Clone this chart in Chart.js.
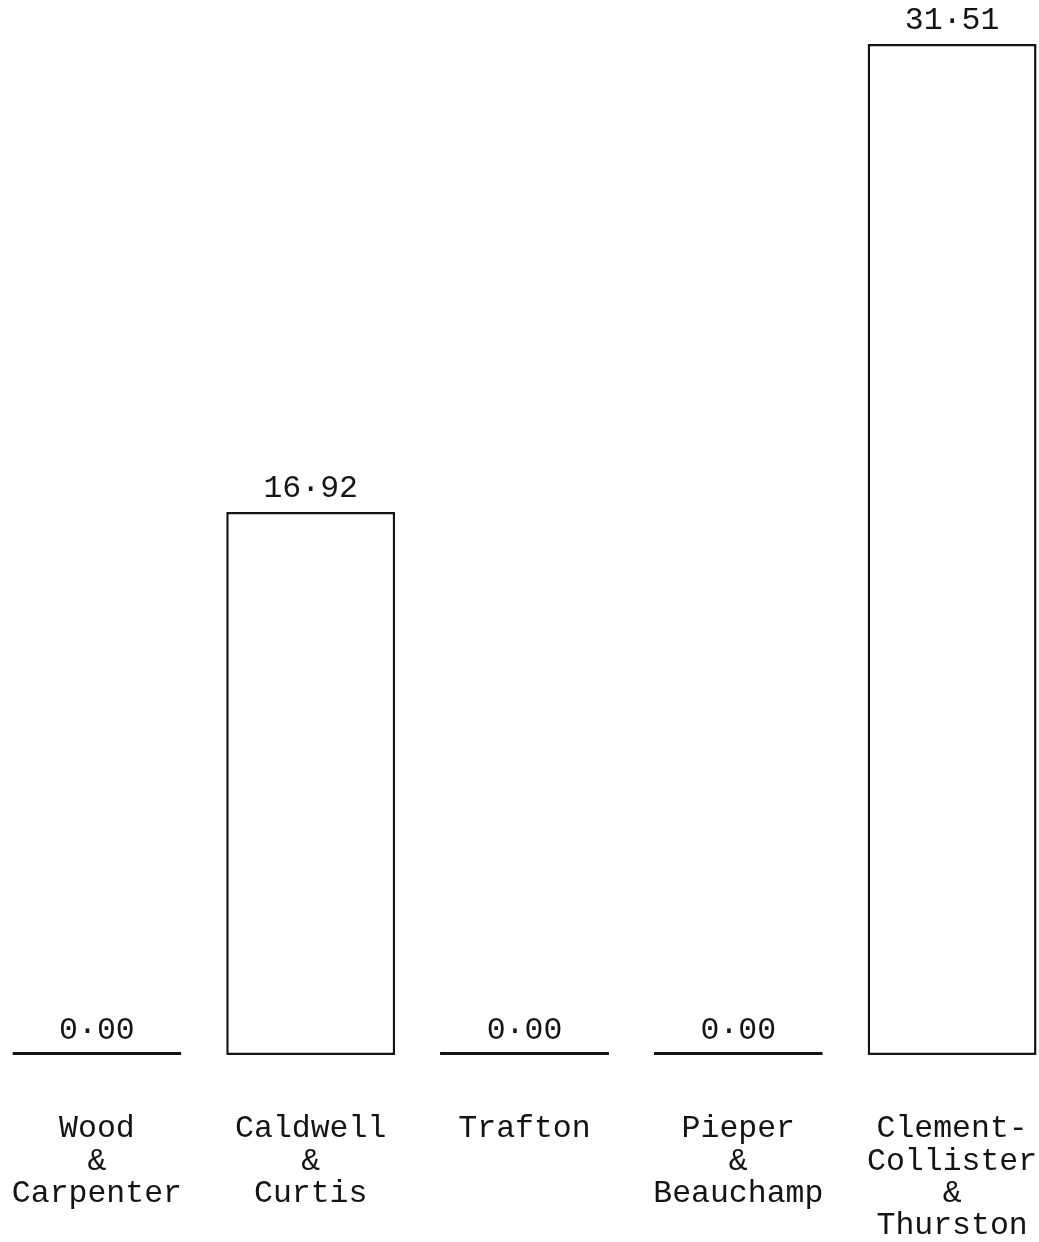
<!DOCTYPE html>
<html lang="en">
<head>
  <meta charset="UTF-8">
  <title>Team Results</title>
  <script src="https://cdn.jsdelivr.net/npm/chart.js"></script>
  <style>
    html, body {
      margin: 0;
      padding: 0;
      overflow: hidden;
      background-color: #fff;
    }
    /* the sheet runs a little past both edges of the page */
    #chartContainer {
      width: 1069px;
      height: 1242px;
      margin-left: -10px;
    }
  </style>
</head>
<body>
  <div id="chartContainer">
    <canvas id="teamChart"></canvas>
  </div>

  <script>
    const teamNames = [
      ['Wood', '&', 'Carpenter'],
      ['Caldwell', '&', 'Curtis'],
      ['Trafton'],
      ['Pieper', '&', 'Beauchamp'],
      ['Clement-', 'Collister', '&', 'Thurston']
    ];
    const teamValues = [0.00, 16.92, 0.00, 0.00, 31.51];

    const INK = '#141414';
    const TYPE_FONT = "'Liberation Mono', 'DejaVu Sans Mono', monospace";

    // value printed over each bar, typewriter style with a raised point
    const valueLabels = {
      id: 'valueLabels',
      afterDatasetsDraw(chart) {
        const ctx = chart.ctx;
        const meta = chart.getDatasetMeta(0);
        ctx.save();
        ctx.font = '31.5px ' + TYPE_FONT;
        ctx.fillStyle = INK;
        ctx.textAlign = 'center';
        ctx.textBaseline = 'middle';
        meta.data.forEach((bar, i) => {
          const text = teamValues[i].toFixed(2).replace('.', '\u00b7');
          const gap = teamValues[i] === 0 ? 21 : 23;
          ctx.fillText(text, bar.x, bar.y - gap);
        });
        ctx.restore();
      }
    };

    const teamChart = new Chart(document.getElementById('teamChart'), {
      type: 'bar',
      data: {
        labels: teamNames,
        datasets: [{
          data: teamValues,
          backgroundColor: '#fff',
          borderColor: INK,
          borderWidth: 2.5,
          borderSkipped: false,
          minBarLength: 3,
          barPercentage: 0.79,
          categoryPercentage: 1
        }]
      },
      options: {
        responsive: true,
        maintainAspectRatio: false,
        animation: false,
        plugins: {
          legend: { display: false },
          tooltip: { enabled: false }
        },
        scales: {
          x: {
            // invisible tick marks push the names down below the baseline
            grid: {
              display: true,
              drawOnChartArea: false,
              drawTicks: true,
              tickLength: 58,
              color: 'rgba(0,0,0,0)'
            },
            border: { display: false },
            ticks: {
              color: INK,
              padding: 0,
              maxRotation: 0,
              autoSkip: false,
              font: { family: TYPE_FONT, size: 31.5, lineHeight: 1.02 }
            },
            afterFit(scale) {
              scale.height = 187;
            }
          },
          y: {
            display: false,
            min: 0,
            max: 32.88
          }
        }
      },
      plugins: [valueLabels]
    });
  </script>
</body>
</html>
